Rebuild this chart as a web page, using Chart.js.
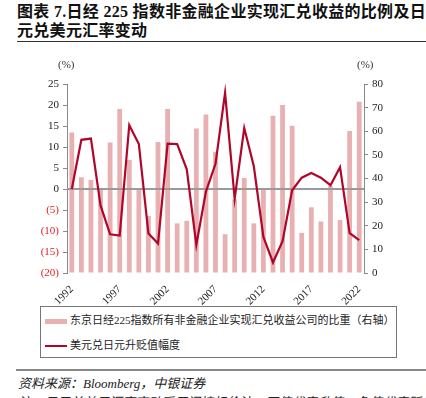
<!DOCTYPE html>
<html>
<head>
<meta charset="utf-8">
<script src="https://cdn.jsdelivr.net/npm/chart.js@4"></script>
<style>
  html, body { margin:0; padding:0; background:#fff; }
  body { width:426px; height:398px; position:relative; overflow:hidden; font-family:"Liberation Serif","Noto Sans CJK SC",serif; }
  #title { position:absolute; left:17px; top:2px; width:409px; font-size:16px; font-weight:bold; line-height:19px; color:#111; letter-spacing:0.3px; }
  #rule1 { position:absolute; left:17px; top:41px; width:409px; height:0; border-top:1.5px solid #333; }
  #chartWrap { position:absolute; left:0; top:0; width:426px; height:306px; }
  .unit { position:absolute; top:58px; font-size:11px; color:#333; }
  #legend { position:absolute; left:40px; top:306px; width:355px; height:50px; border:1px solid #777; font-size:11px; color:#222; }
  .li { position:absolute; left:4px; height:14px; line-height:14px; white-space:nowrap; }
  .sw { display:inline-block; width:22px; vertical-align:middle; margin-right:3px; }
  #rule2 { position:absolute; left:16px; top:369px; width:410px; height:0; border-top:2px solid #888; }
  #src { position:absolute; left:18px; top:373px; font-size:13px; font-style:italic; color:#222; white-space:nowrap; }
  #note { position:absolute; left:18px; top:392px; font-size:13px; font-style:italic; color:#222; white-space:nowrap; }
</style>
</head>
<body>
<div id="title">图表 7.日经 225 指数非金融企业实现汇兑收益的比例及日元兑美元汇率变动</div>
<div id="rule1"></div>
<div id="chartWrap"><canvas id="c" width="426" height="306"></canvas></div>
<div class="unit" style="left:58px;">(%)</div>
<div class="unit" style="left:357px;">(%)</div>
<div id="legend">
  <div class="li" style="top:6px;"><span class="sw" style="height:5px;background:#e8b0b0;"></span><span id="lg1"></span></div>
  <div class="li" style="top:31px;"><span class="sw" style="height:2px;background:#b0062a;"></span><span id="lg2"></span></div>
</div>
<div id="rule2"></div>
<div id="src">资料来源：Bloomberg，中银证券</div>
<div id="note">注：日元兑美元汇率变动采用间接标价法，正值代表升值，负值代表贬值</div>
<script>
const years = ['1992','1993','1994','1995','1996','1997','1998','1999','2000','2001','2002','2003','2004','2005','2006','2007','2008','2009','2010','2011','2012','2013','2014','2015','2016','2017','2018','2019','2020','2021','2022'];
const shownYears = ['1992','1997','2002','2007','2012','2017','2022'];
const barLabel = '东京日经225指数所有非金融企业实现汇兑收益公司的比重（右轴）';
const lineLabel = '美元兑日元升贬值幅度';
const fxGainShare = [59.5,40.5,39.4,35.4,55.2,69.4,47.9,35.4,24.1,55.5,69.4,21.0,22.1,61.2,67.1,51.3,16.4,31.2,40.2,21.0,35.4,66.6,71.1,62.3,17.0,27.8,21.8,36.8,22.4,60.1,72.5];
const usdJpyChange = [0,11.7,12.0,-3.9,-10.8,-11.1,15.2,10.7,-10.6,-13.0,10.8,10.7,4.7,-13.3,-0.6,6.0,22.9,-2.3,14.5,5.4,-11.4,-17.5,-12.4,-0.3,2.7,3.8,2.7,0.9,5.2,-10.5,-12.2];
const leftTicks = {min:-20, max:25, step:5};
const rightTicks = {min:0, max:80, step:10};

document.getElementById('lg1').textContent = barLabel;
document.getElementById('lg2').textContent = lineLabel;

const tickFont = {family:'"Liberation Serif", serif', size:11};

const zeroLinePlugin = {
  id:'zeroLine',
  afterDatasetDraw(chart, args) {
    if (args.index !== 1) return; // after bars
    const y = chart.scales.yL.getPixelForValue(0);
    const ctx = chart.ctx, a = chart.chartArea;
    ctx.save();
    ctx.strokeStyle = '#9a9a9a';
    ctx.lineWidth = 2;
    ctx.beginPath();
    ctx.moveTo(a.left, y);
    ctx.lineTo(a.right, y);
    ctx.stroke();
    ctx.restore();
  }
};

new Chart(document.getElementById('c'), {
  data: {
    labels: years,
    datasets: [
      {
        type:'line', label: lineLabel, data: usdJpyChange, yAxisID:'yL',
        borderColor:'#b0062a', borderWidth:2.2, pointRadius:0, tension:0, order:0
      },
      {
        type:'bar', label: barLabel, data: fxGainShare, yAxisID:'yR',
        backgroundColor:'#e8b0b0', borderWidth:0, barPercentage:0.5, categoryPercentage:1.0, order:1
      }
    ]
  },
  options: {
    responsive:false,
    animation:false,
    layout:{padding:{top:84, left:0, right:0, bottom:0}},
    plugins:{ legend:{display:false}, tooltip:{enabled:false} },
    scales: {
      x: {
        offset:true,
        grid:{display:false},
        border:{display:false},
        ticks:{
          autoSkip:false, minRotation:45, maxRotation:45, padding:2,
          font:tickFont, color:'#222',
          callback(v){ const l = years[v]; return shownYears.includes(l) ? l : ''; }
        },
        afterFit(s){ s.height = 33; }
      },
      yL: {
        position:'left', min:leftTicks.min, max:leftTicks.max,
        border:{display:true, color:'#8a8a8a', width:1},
        grid:{drawOnChartArea:false, drawTicks:true, tickLength:4, tickColor:'#8a8a8a'},
        ticks:{
          stepSize:leftTicks.step, padding:4, font:tickFont,
          color(ctx){ return ctx.tick && ctx.tick.value < 0 ? '#e0202a' : '#222'; },
          callback(v){ return v < 0 ? '(' + (-v) + ')' : String(v); }
        },
        afterFit(s){ s.width = 67; }
      },
      yR: {
        position:'right', min:rightTicks.min, max:rightTicks.max,
        border:{display:true, color:'#8a8a8a', width:1},
        grid:{drawOnChartArea:false, drawTicks:true, tickLength:4, tickColor:'#8a8a8a'},
        ticks:{ stepSize:rightTicks.step, padding:4, font:tickFont, color:'#222' },
        afterFit(s){ s.width = 62; }
      }
    }
  },
  plugins:[zeroLinePlugin]
});
</script>
</body>
</html>
